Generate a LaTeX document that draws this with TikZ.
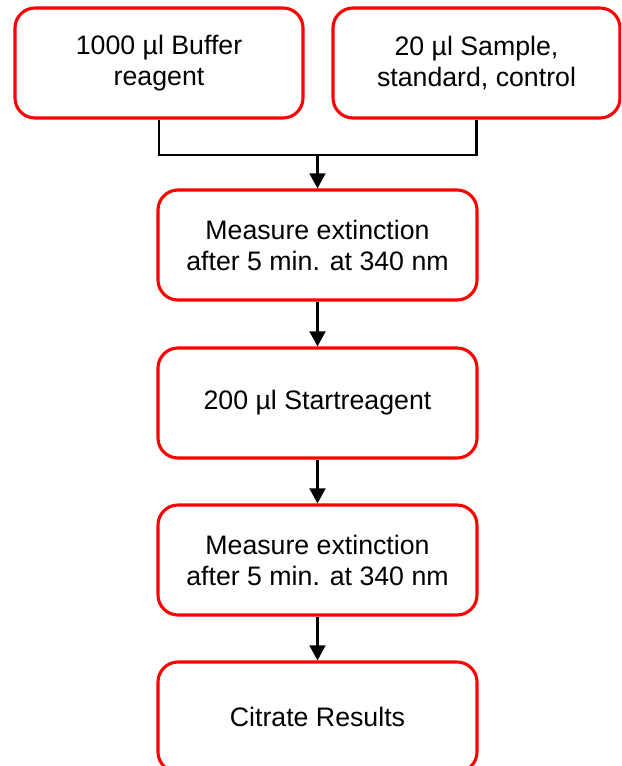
\documentclass[tikz,border=0pt]{standalone}
\usepackage{fontspec}
\setmainfont{Liberation Sans}
\usetikzlibrary{arrows.meta}

\begin{document}
\begin{tikzpicture}
            % Define colors
            \definecolor{boxred}{RGB}{255, 0, 0}

            % Styles
            \tikzset{
                stepbox/.style={draw=boxred, line width=2.2pt, rounded corners=0.5cm,
                    fill=white, align=center, font=\fontsize{19}{22}\selectfont,
                    minimum height=2.75cm, inner sep=0pt},
                link/.style={line width=1.6pt, black},
                arr/.style={link, -{Triangle[width=0.4cm, length=0.38cm]}}
            }

            % Page size
            \useasboundingbox (0, 0) rectangle (15.525, -19.15);
            \clip (0, 0) rectangle (15.525, -19.15);

            % Top row
            \node[stepbox, minimum width=7.2cm] (buffer) at (3.975, -1.575) {1000 µl Buffer\\reagent};
            \node[stepbox, minimum width=7.175cm] (sample) at (11.9125, -1.575) {20 µl Sample,\\standard, control};

            % Main column
            \node[stepbox, minimum width=7.975cm] (meas1) at (7.9375, -6.125) {Measure extinction\\after 5 min. at 340 nm};
            \node[stepbox, minimum width=7.975cm] (start) at (7.9375, -10.075) {200 µl Startreagent};
            \node[stepbox, minimum width=7.975cm] (meas2) at (7.9375, -14.0) {Measure extinction\\after 5 min. at 340 nm};
            \node[stepbox, minimum width=7.975cm] (result) at (7.9375, -17.925) {Citrate Results};

            % Connectors
            \coordinate (join) at (7.9375, -3.875);
            \draw[link] (buffer.south) |- (join) -| (sample.south);
            \draw[arr] (join) -- (meas1.north);
            \draw[arr] (meas1) -- (start);
            \draw[arr] (start) -- (meas2);
            \draw[arr] (meas2) -- (result);
        \end{tikzpicture}
\end{document}
